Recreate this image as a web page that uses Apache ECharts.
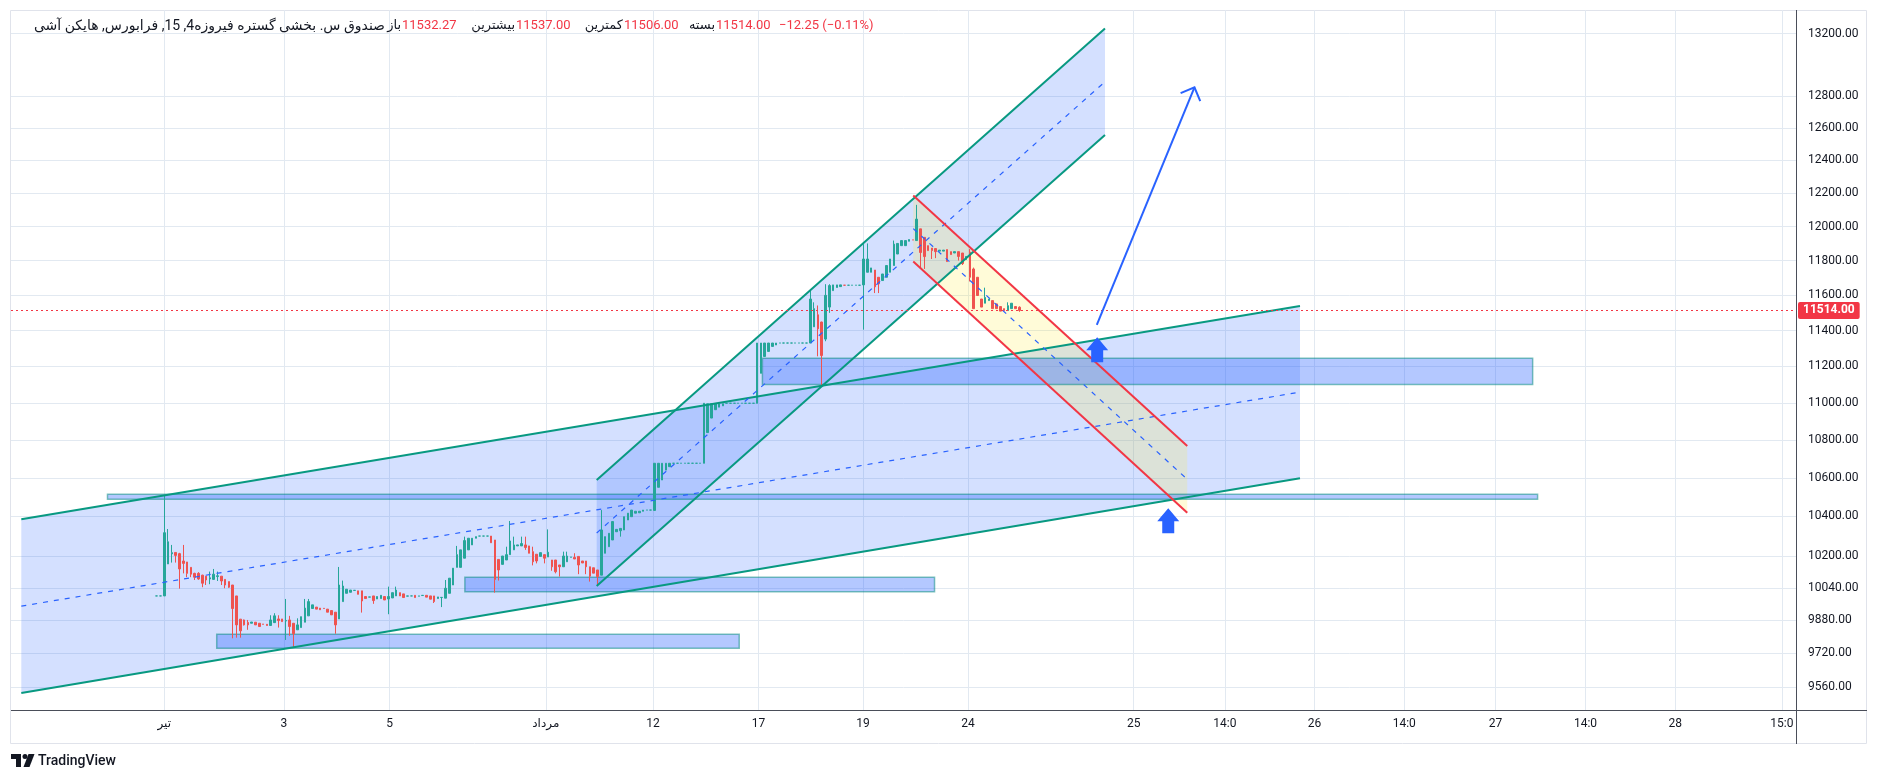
<!DOCTYPE html>
<html><head><meta charset="utf-8">
<script src="https://cdn.jsdelivr.net/npm/echarts@6/dist/echarts.min.js"></script>
<style>html,body{margin:0;padding:0;background:#fff}#c{width:1879px;height:781px}</style>
</head><body><div id="c"></div>
<script>
// ---------- DATA ----------
const barStart = -2; // bar index of the first bar (first visible trading bar = 0)
const opens = [
10000,10000,
10000,10159,10210,10217,10211,10174,10169,10142,10112,10112,
10103,10098,10084,10082,10096,10098,10082,10071,10054,10000,
9886,9882,9870,9866,9871,9866,9862,9861,9855,9869,
9887,9887,9877,9882,9866,9834,9845,9871,9902,9938,
9945,9940,9939,9935,9928,9920,9887,9972,10013,10018,
10027,10025,10025,9997,9994,10000,9985,9987,9997,9985,
9990,10000,10016,10010,9999,10000,10003,9999,10002,10003,
10000,10000,9987,9992,9989,10013,10054,10142,10142,10188,
10230,10255,10289,10300,10300,10300,10300,10280,10182,10157,
10179,10206,10230,10250,10250,10255,10250,10221,10208,10197,
10206,10194,10179,10179,10154,10145,10170,10193,10192,10197,
10174,10174,10145,10140,10129,10103,10213,10246,10280,10322,
10327,10331,10382,10399,10417,10419,10427,10433,10433,10431,
10551,10589,10641,10659,10677,10677,10677,10677,10677,10677,
10677,10677,10677,10840,10918,10963,10977,10984,10998,10998,
10998,10998,10998,10998,10998,10998,10998,11162,11255,11283,
11311,11319,11330,11330,11330,11330,11330,11330,11330,11330,
11330,11421,11489,11448,11352,11533,11627,11645,11650,11658,
11658,11658,11658,11658,11660,11733,11733,11746,11704,11685,
11704,11733,11772,11839,11888,11888,11914,11922,11918,11987,
11937,11888,11874,11871,11856,11856,11865,11853,11845,11853,
11845,11807,11850,11752,11704,11579,11555,11570,11570,11551,
11536,11524,11513,11524,11536,11532.27
];
const closes = [
10000,10000,
10317,10271,10216,10202,10134,10162,10112,10108,10093,10084,
10063,10079,10090,10108,10100,10074,10054,10043,9938,9858,
9829,9858,9858,9872,9858,9850,9861,9855,9882,9902,
9879,9874,9879,9850,9815,9858,9898,9940,9972,9956,
9935,9932,9938,9920,9907,9858,10054,10049,10033,10029,
10028,10008,9975,9987,9995,9977,9997,10003,9980,9997,
10016,10029,10000,9992,10000,10000,9992,10000,10003,9994,
9984,9972,9995,9993,10038,10088,10138,10206,10230,10277,
10289,10289,10297,10300,10300,10300,10266,10082,10129,10199,
10206,10275,10255,10255,10262,10242,10213,10170,10174,10216,
10188,10218,10145,10120,10145,10199,10199,10194,10184,10154,
10164,10145,10098,10113,10096,10331,10297,10314,10374,10334,
10339,10399,10417,10433,10427,10427,10433,10433,10433,10677,
10677,10677,10677,10677,10677,10677,10677,10677,10677,10677,
10677,10677,10998,10995,10995,10995,10995,10995,10998,10998,
10998,10998,10998,10998,10998,10998,11330,11330,11330,11330,
11330,11330,11330,11330,11330,11330,11330,11330,11330,11330,
11579,11524,11410,11260,11600,11656,11660,11660,11660,11658,
11658,11658,11658,11658,11810,11810,11758,11649,11666,11723,
11772,11810,11897,11901,11918,11918,11924,11922,12045,11848,
11824,11859,11859,11853,11862,11862,11795,11836,11853,11825,
11783,11825,11704,11524,11599,11533,11588,11579,11524,11524,
11510,11513,11541,11555,11524,11514
];
const lows = [
10000,10000,
10000,10159,10166,10166,10036,10112,10093,10093,10079,10080,
10043,10054,10058,10079,10074,10054,10038,10040,9793,9796,
9796,9855,9834,9866,9858,9850,9861,9855,9855,9869,
9845,9874,9785,9805,9751,9834,9845,9871,9902,9938,
9935,9932,9938,9920,9907,9815,9887,9972,10013,10018,
10027,10008,9918,9987,9994,9961,9985,9987,9980,9910,
9990,10000,10000,9992,9999,10000,9992,9999,10002,9994,
9984,9965,9987,9945,9989,10013,10054,10142,10142,10188,
10230,10255,10289,10300,10300,10300,10266,10016,10076,10157,
10179,10206,10230,10250,10250,10230,10213,10152,10162,10197,
10162,10194,10125,10112,10096,10145,10170,10193,10184,10108,
10164,10108,10071,10113,10049,10103,10213,10246,10280,10322,
10297,10331,10382,10399,10417,10419,10427,10433,10433,10431,
10551,10589,10641,10659,10677,10677,10677,10677,10677,10677,
10677,10677,10677,10840,10918,10963,10977,10984,10998,10998,
10998,10998,10998,10998,10998,10998,10998,11162,11255,11283,
11311,11319,11330,11330,11330,11330,11330,11330,11330,11330,
11330,11421,11256,11092,11340,11500,11627,11645,11650,11658,
11658,11658,11658,11658,11405,11733,11733,11613,11613,11685,
11704,11733,11772,11839,11888,11888,11914,11922,11918,11752,
11752,11859,11810,11815,11856,11856,11795,11836,11845,11801,
11775,11807,11680,11524,11599,11533,11555,11570,11524,11524,
11510,11513,11513,11524,11524,11506
];
const highs = [
10000,10000,
10511,10336,10255,10217,10215,10255,10169,10142,10115,10118,
10105,10098,10121,10134,10121,10098,10082,10071,10054,10000,
9886,9884,9882,9872,9871,9866,9862,9861,9905,9915,
9905,9887,9985,9902,9866,9890,9898,9985,9985,9956,
9945,9940,9939,9935,9928,9920,10144,10076,10033,10029,
10028,10025,10025,9997,9995,10000,9997,10003,9997,10046,
10016,10046,10016,10010,10000,10000,10003,10000,10003,10003,
10000,10000,9995,9993,10079,10088,10138,10250,10230,10297,
10289,10289,10297,10300,10300,10300,10300,10280,10182,10199,
10246,10377,10297,10255,10297,10297,10250,10246,10208,10216,
10206,10334,10179,10179,10154,10221,10221,10194,10213,10197,
10174,10174,10145,10140,10129,10433,10297,10314,10374,10334,
10339,10399,10417,10433,10427,10427,10433,10433,10433,10677,
10677,10677,10677,10677,10677,10677,10677,10677,10677,10677,
10677,10677,10998,10995,10995,10995,10995,10995,10998,10998,
10998,10998,10998,10998,10998,10998,11330,11330,11330,11330,
11330,11330,11330,11330,11330,11330,11330,11330,11330,11330,
11635,11560,11542,11450,11664,11664,11660,11660,11660,11658,
11658,11658,11658,11658,11897,11901,11758,11746,11704,11723,
11772,11810,11918,11901,11918,11918,11924,11922,12130,11987,
11937,11888,11874,11871,11862,11862,11865,11853,11853,11853,
11845,11825,11868,11760,11704,11579,11644,11579,11570,11551,
11536,11524,11560,11555,11536,11537
];
const lastClose = 11514;

// drawings, in [bar index, price]
const bigChannel   = [[-37.63, 10385.6, 9532.0], [298.87, 11539.5, 10597.9]];   // [x, upper, lower]
const steepChannel = [[113.79, 10589.1, 10049.3], [247.55, 13234.2, 12555.2]];
const redChannel   = [[197.1, 12185.6, 11795.0], [269.2, 10768.3, 10419.5]];
const zones = [ // [x1, x2, priceTop, priceBottom]
  [-14.95, 361.4, 10514.6, 10488.7],
  [13.8, 151.3, 9812.7, 9745.0],
  [79.1, 202.7, 10092.6, 10021.1],
  [157.4, 360.1, 11244.6, 11100.8]
];
const trendArrow = [[245.4, 11432], [271.1, 12855]];
const upMarkers  = [[245.5, 11362], [264.2, 10442]];

// axes
const yTicks = [13200, 12800, 12600, 12400, 12200, 12000, 11800, 11600, 11400, 11200, 11000, 10800, 10600, 10400, 10200, 10040, 9880, 9720, 9560];
const yRange = [9452.3, 13355];
const xTickPos = [0, 31.5, 59.3, 100.4, 128.6, 156.4, 183.9, 211.5, 255.1, 279.1, 302.7, 326.3, 350.3, 374.0, 397.6, 425.7];
const xTickLabels = ['تیر', '3', '5', 'مرداد', '12', '17', '19', '24', '25', '14:0', '26', '14:0', '27', '14:0', '28', '15:0'];
const xRange = [-40.34, 429.4];

// header
const titleText = 'صندوق س. بخشی گستره فیروزه4, 15, فرابورس, هایکن آشی';
const headerLabels = ['باز', 'بیشترین', 'کمترین', 'بسته'];
const headerValues = ['11532.27', '11537.00', '11506.00', '11514.00'];
const changeText = '\u221212.25 (\u22120.11%)';

// ---------- CHART ----------
const L = v => Math.log10(v);
const FONT = 'Roboto, "DejaVu Sans", sans-serif';
const TXT = '#131722';
const UP = '#26a69a', DOWN = '#ef5350', TEAL = '#089981', BLUE = '#2962ff', RED = '#f23645';

const candleData = opens.map((o, i) => [barStart + i, L(o), L(closes[i]), L(lows[i]), L(highs[i])]);

function chanItem(ch) { return [ch[0][0], ch[1][0], L(ch[0][1]), L(ch[1][1]), L(ch[0][2]), L(ch[1][2])]; }
function polyRender(fill) {
  return function (params, api) {
    const x1 = api.value(0), x2 = api.value(1);
    const pts = [api.coord([x1, api.value(2)]), api.coord([x2, api.value(3)]), api.coord([x2, api.value(5)]), api.coord([x1, api.value(4)])];
    return { type: 'polygon', shape: { points: pts }, style: { fill: fill } };
  };
}
function lineSeries(pts, color, width, type, z) {
  return { type: 'line', silent: true, z: z, data: pts, symbol: 'none', animation: false,
    lineStyle: { color: color, width: width, type: type } };
}
function channelLines(ch, color) {
  const up = [[ch[0][0], L(ch[0][1])], [ch[1][0], L(ch[1][1])]];
  const lo = [[ch[0][0], L(ch[0][2])], [ch[1][0], L(ch[1][2])]];
  const mid = [[ch[0][0], (L(ch[0][1]) + L(ch[0][2])) / 2], [ch[1][0], (L(ch[1][1]) + L(ch[1][2])) / 2]];
  return [lineSeries(up, color, 2, 'solid', 4), lineSeries(lo, color, 2, 'solid', 4), lineSeries(mid, BLUE, 1.2, [5, 6], 4)];
}

const series = [
  { type: 'custom', z: 1, silent: true, data: [chanItem(bigChannel)], renderItem: polyRender('rgba(41,98,255,0.2)') },
  { type: 'custom', z: 1, silent: true, data: [chanItem(steepChannel)], renderItem: polyRender('rgba(41,98,255,0.2)') },
  { type: 'custom', z: 1, silent: true, data: [chanItem(redChannel)], renderItem: polyRender('rgba(255,235,59,0.2)') },
  { type: 'custom', z: 2, silent: true,
    data: zones.map(r => [r[0], r[1], L(r[2]), L(r[3])]),
    renderItem: function (params, api) {
      const a = api.coord([api.value(0), api.value(2)]);
      const b = api.coord([api.value(1), api.value(3)]);
      return { type: 'rect', shape: { x: a[0], y: a[1], width: b[0] - a[0], height: b[1] - a[1] },
        style: { fill: 'rgba(41,98,255,0.35)', stroke: 'rgba(0,137,123,0.5)', lineWidth: 1.5 } };
    } },
  {
    type: 'candlestick', z: 3, data: candleData, encode: { x: 0, y: [1, 2, 3, 4] },
    barWidth: 2.2, animation: false, silent: true,
    itemStyle: { color: UP, color0: DOWN, borderColor: UP, borderColor0: DOWN, borderWidth: 1 },
    markLine: {
      silent: true, symbol: ['none', 'none'], animation: false, precision: 10,
      data: [{ yAxis: L(lastClose) }],
      lineStyle: { color: RED, width: 1, type: [2, 3] },
      label: { position: 'end', distance: 2, formatter: lastClose.toFixed(2), color: '#fff',
        backgroundColor: RED, padding: [3, 5, 2, 5], borderRadius: 2, fontSize: 12, fontWeight: 'bold', fontFamily: FONT }
    }
  },
  ...channelLines(bigChannel, TEAL),
  ...channelLines(steepChannel, TEAL),
  ...channelLines(redChannel, RED),
  { type: 'custom', z: 5, silent: true,
    data: [[trendArrow[0][0], L(trendArrow[0][1]), trendArrow[1][0], L(trendArrow[1][1])]],
    renderItem: function (params, api) {
      const p1 = api.coord([api.value(0), api.value(1)]);
      const p2 = api.coord([api.value(2), api.value(3)]);
      const ang = Math.atan2(p1[1] - p2[1], p1[0] - p2[0]);
      const h = 15, s = Math.PI / 4;
      const a = [p2[0] + h * Math.cos(ang + s), p2[1] + h * Math.sin(ang + s)];
      const b = [p2[0] + h * Math.cos(ang - s), p2[1] + h * Math.sin(ang - s)];
      return { type: 'group', children: [
        { type: 'line', shape: { x1: p1[0], y1: p1[1], x2: p2[0], y2: p2[1] }, style: { stroke: BLUE, lineWidth: 2 } },
        { type: 'polyline', shape: { points: [a, p2, b] }, style: { stroke: BLUE, lineWidth: 2, fill: null } }
      ] };
    } },
  { type: 'custom', z: 5, silent: true,
    data: upMarkers.map(m => [m[0], L(m[1])]),
    renderItem: function (params, api) {
      const p = api.coord([api.value(0), api.value(1)]);
      const off = [[0, 0], [11, 13], [6, 13], [6, 25], [-6, 25], [-6, 13], [-11, 13]];
      return { type: 'polygon', shape: { points: off.map(o => [p[0] + o[0], p[1] + o[1]]) }, style: { fill: BLUE } };
    } }
];

// header graphics
const hdrY = 26;
const graphic = [
  { type: 'rect', z: 0, silent: true, shape: { x: 10.5, y: 10.5, width: 1856, height: 733 }, style: { fill: 'none', stroke: '#e0e3eb', lineWidth: 1 } },
  { type: 'line', z: 10, silent: true, shape: { x1: 11, y1: 710.5, x2: 1867, y2: 710.5 }, style: { stroke: '#4a4e59', lineWidth: 1 } },
  { type: 'line', z: 10, silent: true, shape: { x1: 1796.5, y1: 10, x2: 1796.5, y2: 744 }, style: { stroke: '#4a4e59', lineWidth: 1 } },
  { type: 'text', z: 10, silent: true, x: 385, y: hdrY, style: { text: '\u202B' + titleText + '\u202C', align: 'right', verticalAlign: 'middle', font: '14px ' + FONT, fill: TXT, overflow: 'none' } }
];
const valueX = [402, 516, 624, 716];
headerLabels.forEach((lab, i) => {
  graphic.push({ type: 'text', z: 10, silent: true, x: valueX[i] - 1, y: hdrY, style: { text: lab, align: 'right', verticalAlign: 'middle', font: '13px ' + FONT, fill: TXT } });
  graphic.push({ type: 'text', z: 10, silent: true, x: valueX[i], y: hdrY, style: { text: headerValues[i], align: 'left', verticalAlign: 'middle', font: '13px ' + FONT, fill: RED } });
});
graphic.push({ type: 'text', z: 10, silent: true, x: 779, y: hdrY, style: { text: changeText, align: 'left', verticalAlign: 'middle', font: '13px ' + FONT, fill: RED } });
// TradingView logo
graphic.push({ type: 'polygon', z: 10, silent: true, shape: { points: [[11, 754], [21, 754], [21, 767], [16, 767], [16, 759], [11, 759]] }, style: { fill: TXT } });
graphic.push({ type: 'circle', z: 10, silent: true, shape: { cx: 25, cy: 756.5, r: 2.5 }, style: { fill: TXT } });
graphic.push({ type: 'polygon', z: 10, silent: true, shape: { points: [[28.5, 754], [34.5, 754], [29.5, 767], [23.5, 767]] }, style: { fill: TXT } });
graphic.push({ type: 'text', z: 10, silent: true, x: 38, y: 761, style: { text: 'TradingView', align: 'left', verticalAlign: 'middle', font: '500 14px ' + FONT, fill: TXT } });

const yCustom = yTicks.map(L);
const option = {
  animation: false,
  backgroundColor: '#ffffff',
  grid: { left: 11, right: 83, top: 10, bottom: 71, containLabel: false },
  xAxis: {
    type: 'value', min: xRange[0], max: xRange[1],
    axisLine: { show: false },
    axisTick: { show: false, customValues: xTickPos },
    splitLine: { show: true, lineStyle: { color: '#e2e9f1', width: 1 } },
    axisLabel: {
      customValues: xTickPos, margin: 8, color: TXT, fontSize: 12, fontFamily: FONT,
      formatter: function (v) {
        let best = 0, d = Infinity;
        xTickPos.forEach((p, i) => { if (Math.abs(p - v) < d) { d = Math.abs(p - v); best = i; } });
        return xTickLabels[best];
      }
    }
  },
  yAxis: {
    type: 'value', position: 'right', min: L(yRange[0]), max: L(yRange[1]), scale: true,
    axisLine: { show: false },
    axisTick: { show: false, customValues: yCustom },
    splitLine: { show: true, lineStyle: { color: '#e2e9f1', width: 1 } },
    axisLabel: {
      customValues: yCustom, margin: 12, color: TXT, fontSize: 12, fontFamily: FONT,
      formatter: v => Math.pow(10, v).toFixed(2)
    }
  },
  graphic: graphic,
  series: series
};

const chart = echarts.init(document.getElementById('c'), null, { renderer: 'canvas' });
chart.setOption(option);
</script></body></html>
